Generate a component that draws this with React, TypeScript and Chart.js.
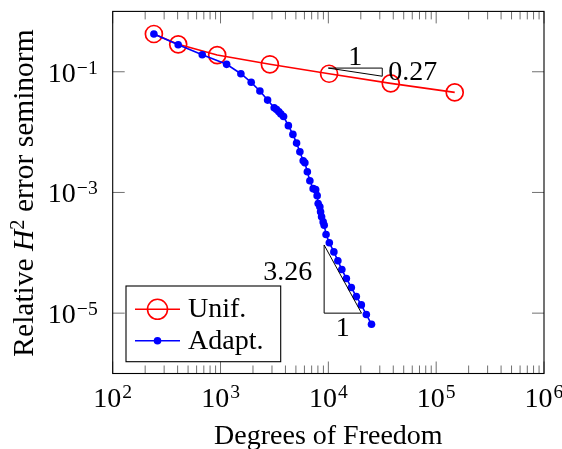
import React, { useEffect, useRef } from 'react';
import { Chart, registerables } from 'chart.js';

Chart.register(...registerables);

// ---- data ----
const unifDofs = [241, 405, 931, 2870, 10160, 37900, 148600];
const unifErr = [0.422, 0.285, 0.189, 0.133, 0.0927, 0.0642, 0.0455];

const adaptDofs = [
  241, 405, 677, 1139, 1545, 1925, 2318, 2733, 3146, 3311, 3478, 3630, 3843, 4258, 4690,
  5073, 5445, 5843, 6058, 6386, 6738, 7228, 7627, 7874, 8045, 8340, 8472, 8655, 8951, 9147,
  9522, 10210, 11250, 12250, 13340, 14690, 16340, 18180, 20230, 22500, 25130,
];
const adaptErr = [
  0.4217, 0.2805, 0.1914, 0.1327, 0.0927, 0.0668, 0.0479, 0.0339, 0.0253, 0.0236, 0.0217,
  0.0199, 0.0181, 0.0128, 0.00916, 0.00657, 0.00471, 0.00334, 0.0031, 0.0022, 0.00156,
  0.001156, 0.001112, 0.000885, 0.000657, 0.000577, 0.000477, 0.000394, 0.000325, 0.000287,
  0.000201, 0.000147, 0.0001035, 0.000074, 0.0000528, 0.0000376, 0.0000266, 0.0000188,
  0.0000137, 0.00000948, 0.00000655,
];

const seriesNames = ['Unif.', 'Adapt.'];
const xTickExps = [2, 3, 4, 5, 6];
const yTickExps = [-1, -3, -5];
const minorMults = [2, 3, 4, 5, 6, 7, 8, 9];

// slope triangles: [x start, x end, y anchor, rate]
const slopeUnif = [1e4, 31623, 0.115, 0.27];
const slopeAdapt = [9140, 20300, 1.0e-5, 3.26];

const xTitle = 'Degrees of Freedom';

const SERIF = '"Liberation Serif", "Times New Roman", serif';

function drawPow(ctx: CanvasRenderingContext2D, base: string, exp: string, x: number, y: number, align: string, size: number) {
  ctx.font = `${size}px ${SERIF}`;
  const wb = ctx.measureText(base).width;
  const ss = size * 0.7;
  ctx.font = `${ss}px ${SERIF}`;
  const we = ctx.measureText(exp).width;
  const total = wb + 1 + we;
  const left = align === 'center' ? x - total / 2 : align === 'right' ? x - total : x;
  ctx.textAlign = 'left';
  ctx.textBaseline = 'alphabetic';
  ctx.font = `${size}px ${SERIF}`;
  ctx.fillText(base, left, y);
  ctx.font = `${ss}px ${SERIF}`;
  ctx.fillText(exp, left + wb + 1, y - size * 0.29);
}

const decor = {
  id: 'decor',
  afterDraw(chart: any) {
    const ctx: CanvasRenderingContext2D = chart.ctx;
    const xs = chart.scales.x;
    const ys = chart.scales.y;
    const { left, right, top, bottom } = chart.chartArea;
    ctx.save();

    // ticks
    ctx.strokeStyle = '#707070';
    ctx.lineWidth = 1;
    ctx.beginPath();
    xTickExps.forEach((e) => {
      const px = xs.getPixelForValue(Math.pow(10, e));
      ctx.moveTo(px, bottom); ctx.lineTo(px, bottom - 12);
      ctx.moveTo(px, top); ctx.lineTo(px, top + 12);
      if (e < 6) {
        minorMults.forEach((m) => {
          const p = xs.getPixelForValue(m * Math.pow(10, e));
          ctx.moveTo(p, bottom); ctx.lineTo(p, bottom - 8);
          ctx.moveTo(p, top); ctx.lineTo(p, top + 8);
        });
      }
    });
    yTickExps.forEach((e) => {
      const py = ys.getPixelForValue(Math.pow(10, e));
      ctx.moveTo(left, py); ctx.lineTo(left + 12, py);
      ctx.moveTo(right, py); ctx.lineTo(right - 12, py);
    });
    ctx.stroke();

    // frame
    ctx.strokeStyle = '#000';
    ctx.lineWidth = 1.1;
    ctx.strokeRect(left, top, right - left, bottom - top);

    // tick labels
    ctx.fillStyle = '#000';
    xTickExps.forEach((e) => {
      const px = xs.getPixelForValue(Math.pow(10, e));
      drawPow(ctx, '10', String(e), px, bottom + 33, 'center', 28);
    });
    yTickExps.forEach((e) => {
      const py = ys.getPixelForValue(Math.pow(10, e));
      drawPow(ctx, '10', '\u2212' + String(-e), left - 15, py + 10, 'right', 28);
    });

    // x title
    ctx.font = `28px ${SERIF}`;
    ctx.textAlign = 'center';
    ctx.textBaseline = 'alphabetic';
    ctx.fillText(xTitle, (left + right) / 2, bottom + 70);

    // y title (rotated)
    ctx.save();
    ctx.translate(33, 193);
    ctx.rotate(-Math.PI / 2);
    const segs: [string, string, number][] = [
      ['Relative ', `29.5px ${SERIF}`, 0],
      ['H', `italic 29.5px ${SERIF}`, 0],
      ['2', `20.5px ${SERIF}`, 9.5],
      [' error seminorm', `29.5px ${SERIF}`, 0],
    ];
    let tw = 0;
    segs.forEach(([t, f]) => { ctx.font = f; tw += ctx.measureText(t).width; });
    let cx = -tw / 2;
    ctx.textAlign = 'left';
    segs.forEach(([t, f, r]) => {
      ctx.font = f;
      ctx.fillText(t, cx, -r);
      cx += ctx.measureText(t).width;
    });
    ctx.restore();

    // slope triangles
    ctx.strokeStyle = '#000';
    ctx.lineWidth = 1;
    {
      const [x0, x1, y0, r] = slopeUnif;
      const y1 = y0 * Math.pow(x1 / x0, -r);
      const ax = xs.getPixelForValue(x0), bx = xs.getPixelForValue(x1);
      const ay = ys.getPixelForValue(y0), cy = ys.getPixelForValue(y1);
      ctx.beginPath();
      ctx.moveTo(ax, ay); ctx.lineTo(bx, ay); ctx.lineTo(bx, cy); ctx.closePath();
      ctx.stroke();
      ctx.font = `28px ${SERIF}`;
      ctx.textAlign = 'center';
      ctx.fillText('1', (ax + bx) / 2, ay - 3);
      ctx.textAlign = 'left';
      ctx.fillText(String(r), bx + 6, (ay + cy) / 2 + 8);
    }
    {
      const [x0, x1, y0, r] = slopeAdapt;
      const y1 = y0 * Math.pow(x1 / x0, r);
      const ax = xs.getPixelForValue(x0), bx = xs.getPixelForValue(x1);
      const ay = ys.getPixelForValue(y0), cy = ys.getPixelForValue(y1);
      ctx.beginPath();
      ctx.moveTo(ax, cy); ctx.lineTo(ax, ay); ctx.lineTo(bx, ay); ctx.closePath();
      ctx.stroke();
      ctx.font = `28px ${SERIF}`;
      ctx.textAlign = 'right';
      ctx.fillText(String(r), ax - 12, (ay + cy) / 2 + 1);
      ctx.textAlign = 'center';
      ctx.fillText('1', (ax + bx) / 2, ay + 23);
    }

    // legend
    const lx = left + 13.3, ly = bottom - 87.5, lw = 154.7, lh = 75.7;
    ctx.fillStyle = '#fff';
    ctx.fillRect(lx, ly, lw, lh);
    ctx.strokeStyle = '#000';
    ctx.lineWidth = 1.1;
    ctx.strokeRect(lx, ly, lw, lh);
    const rowY = [ly + 23.3, ly + 54.7];
    // Unif
    ctx.strokeStyle = '#ff0000';
    ctx.lineWidth = 1.6;
    ctx.beginPath();
    ctx.moveTo(lx + 9, rowY[0]); ctx.lineTo(lx + 54, rowY[0]);
    ctx.stroke();
    ctx.beginPath();
    ctx.arc(lx + 31.5, rowY[0], 10, 0, Math.PI * 2);
    ctx.stroke();
    // Adapt
    ctx.strokeStyle = '#0000ff';
    ctx.beginPath();
    ctx.moveTo(lx + 9, rowY[1]); ctx.lineTo(lx + 54, rowY[1]);
    ctx.stroke();
    ctx.fillStyle = '#0000ff';
    ctx.beginPath();
    ctx.arc(lx + 31.5, rowY[1], 3.8, 0, Math.PI * 2);
    ctx.fill();
    ctx.fillStyle = '#000';
    ctx.font = `28px ${SERIF}`;
    ctx.textAlign = 'left';
    ctx.fillText(seriesNames[0], lx + 62, rowY[0] + 8);
    ctx.fillText(seriesNames[1], lx + 62, rowY[1] + 8);

    ctx.restore();
  },
};

export default function App() {
  const ref = useRef<HTMLCanvasElement | null>(null);
  useEffect(() => {
    if (!ref.current) return;
    const chart = new Chart(ref.current, {
      type: 'line',
      data: {
        datasets: [
          {
            label: seriesNames[0],
            data: unifDofs.map((x, i) => ({ x, y: unifErr[i] })),
            borderColor: '#ff0000',
            borderWidth: 1.6,
            pointRadius: 8.5,
            pointHoverRadius: 8.5,
            pointBorderColor: '#ff0000',
            pointBackgroundColor: 'rgba(0,0,0,0)',
            pointBorderWidth: 1.7,
            fill: false,
            tension: 0,
            order: 2,
          },
          {
            label: seriesNames[1],
            data: adaptDofs.map((x, i) => ({ x, y: adaptErr[i] })),
            borderColor: '#0000ff',
            borderWidth: 1.6,
            pointRadius: 3.8,
            pointHoverRadius: 3.8,
            pointBorderColor: '#0000ff',
            pointBackgroundColor: '#0000ff',
            pointBorderWidth: 0,
            fill: false,
            tension: 0,
            order: 1,
          },
        ],
      },
      options: {
        responsive: false,
        animation: false,
        events: [],
        layout: { padding: { left: 0, right: 18, top: 11.4, bottom: 0 } },
        plugins: { legend: { display: false }, tooltip: { enabled: false }, title: { display: false } },
        scales: {
          x: {
            type: 'logarithmic',
            min: 100,
            max: 1e6,
            grid: { display: false },
            border: { display: false },
            ticks: { display: false },
            afterFit: (s: any) => { s.height = 75.5; },
          },
          y: {
            type: 'logarithmic',
            min: 1e-6,
            max: 1,
            grid: { display: false },
            border: { display: false },
            ticks: { display: false },
            afterFit: (s: any) => { s.width = 112.7; },
          },
        },
      },
      plugins: [decor],
    } as any);
    return () => chart.destroy();
  }, []);
  return (
    <div style={{ position: 'absolute', left: 0, top: 0, width: 562, height: 449, background: '#fff' }}>
      <canvas ref={ref} width={562} height={449} style={{ display: 'block', width: 562, height: 449 }} />
    </div>
  );
}
